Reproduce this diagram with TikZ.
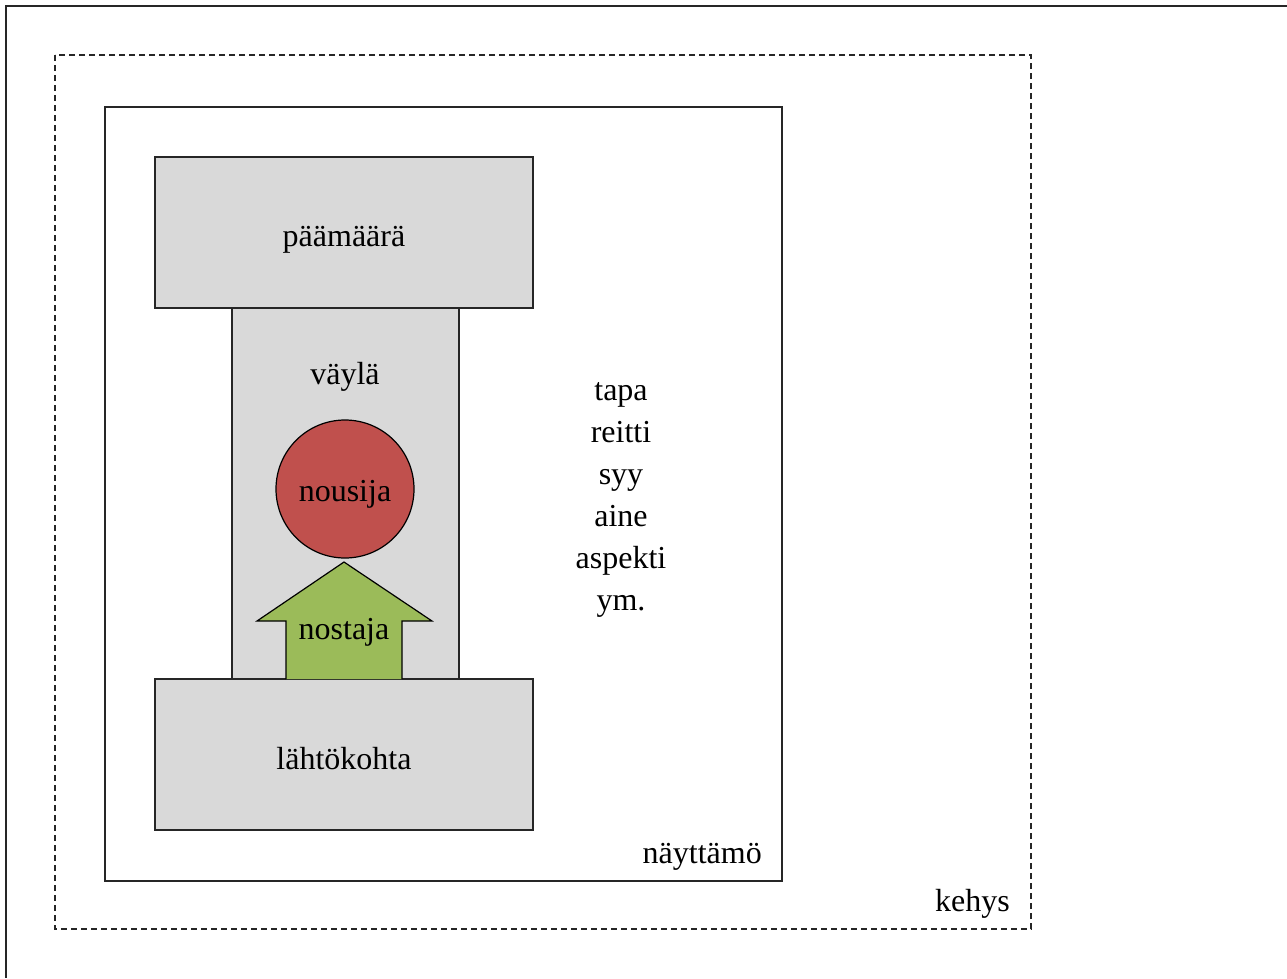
\documentclass[tikz,border=0pt]{standalone}
\usepackage{fontspec}
\setmainfont{Liberation Serif}
\definecolor{boxgray}{HTML}{D9D9D9}
\definecolor{risered}{HTML}{C0504D}
\definecolor{liftgreen}{HTML}{9BBB59}
\tikzset{
  frameline/.style={draw=black!85, line width=1.6pt},
  graybox/.style={draw=black!85, fill=boxgray, line width=1.2pt},
  lbl/.style={font=\fontsize{32}{38}\selectfont, inner sep=0pt},
}
\begin{document}
\begin{tikzpicture}[x=1pt,y=-1pt]
\useasboundingbox (0,0) rectangle (1287,978);
\fill[white] (0,0) rectangle (1287,978);
% outer frame (only top and left visible)
\draw[frameline] (1287,6) -- (6,6) -- (6,978);
% kehys dashed frame
\draw[draw=black!85, line width=1.3pt, dash pattern=on 6pt off 4pt] (55,55) rectangle (1031,929);
\node[lbl, anchor=east] (kehys) at (1010,904) {kehys};
% naayttamo
\draw[frameline, line width=1.3pt] (105,107) rectangle (782,881);
\node[lbl, anchor=east] (nayttamo) at (762,857) {näyttämö};
% column
\draw[graybox] (232,300) rectangle (459,690);
% top and bottom boxes
\draw[graybox] (155,157) rectangle (533,308);
\node[lbl] (paamaara) at (344,240) {päämäärä};
\draw[graybox] (155,679) rectangle (533,830);
\node[lbl] (lahtokohta) at (344,759) {lähtökohta};
\node[lbl] (vayla) at (345,377) {väylä};
% circle
\draw[fill=risered, draw=black, line width=1.2pt] (345,489) circle (69);
\node[lbl] (nousija) at (345,494) {nousija};
% arrow
\draw[fill=liftgreen, draw=black, line width=1.2pt, line join=miter]
  (286,679) -- (286,621) -- (257,621) -- (344,562) -- (432,621) -- (402,621) -- (402,679);
\node[lbl] (nostaja) at (344,632) {nostaja};
% list
\node[lbl, align=center, font=\fontsize{32}{42}\selectfont] (lista) at (621,500) {tapa\\reitti\\syy\\aine\\aspekti\\ym.};
\end{tikzpicture}
\end{document}
